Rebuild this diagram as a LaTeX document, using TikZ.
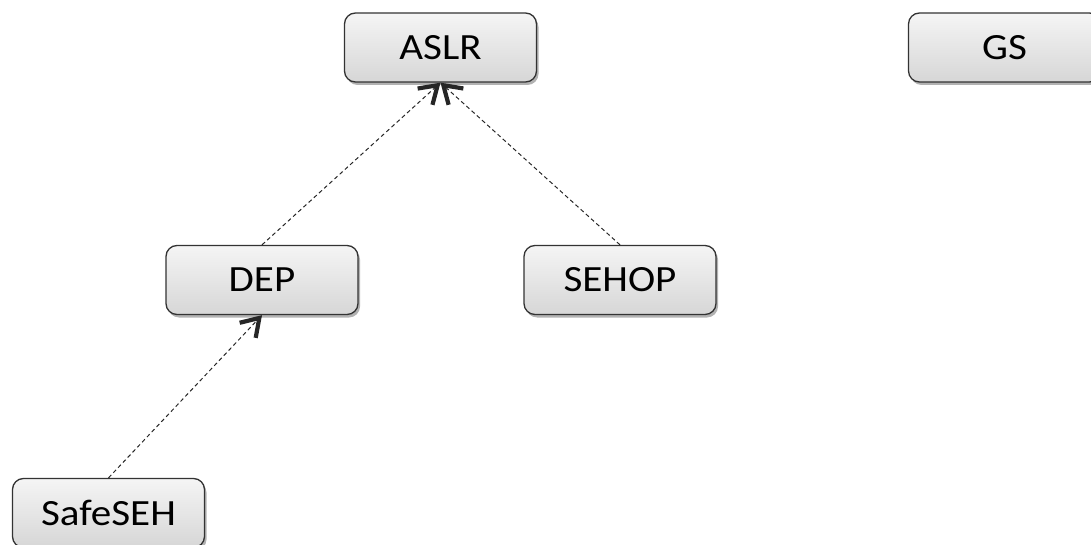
\documentclass[tikz,border=0pt]{standalone}
\usepackage{fontspec}
\setmainfont{Carlito}[FakeStretch=1.11]
\usetikzlibrary{arrows.meta,shadows}
\tikzset{
  mitbox/.style={
    draw=black!80, line width=1.3pt, rounded corners=11pt,
    top color=white!96!black, bottom color=white!84!black,
    minimum width=192pt, minimum height=69pt, inner sep=0pt,
    font=\fontsize{37}{40}\selectfont,
    drop shadow={shadow xshift=2pt, shadow yshift=-3pt, opacity=0.3, fill=black}
  },
  depends/.style={
    dash pattern=on 4pt off 3pt, line width=1pt, black!85,
    -{Straight Barb[length=17pt,width=22pt,line width=4.2pt 0 1]}
  }
}
\begin{document}
\begin{tikzpicture}[x=1pt,y=1pt]
  \useasboundingbox (0,0) rectangle (1091,-545);
  \clip (0,0) rectangle (1091,-545);
  % mitigation boxes
  \node[mitbox] (aslr)    at (440.5,-47.5) {ASLR};
  \node[mitbox] (gs)      at (1004.5,-47.5) {GS};
  \node[mitbox] (dep)     at (262,-280) {DEP};
  \node[mitbox] (sehop)   at (620,-280) {SEHOP};
  \node[mitbox] (safeseh) at (108.5,-513) {SafeSEH};
  % dependencies
  \draw[depends] (dep.north) -- (aslr.south);
  \draw[depends] (sehop.north) -- (aslr.south);
  \draw[depends] (safeseh.north) -- (dep.south);
\end{tikzpicture}
\end{document}
